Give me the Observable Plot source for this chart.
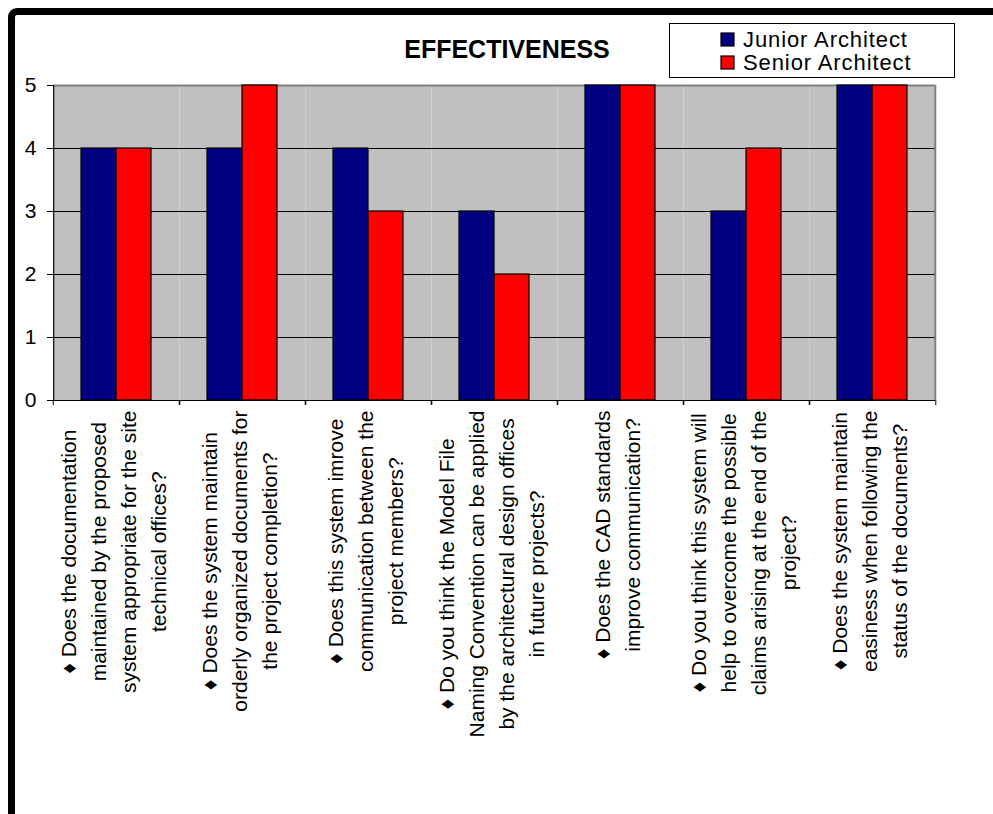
<!DOCTYPE html>
<html>
<head>
<meta charset="utf-8">
<script src="https://cdn.jsdelivr.net/npm/d3@7"></script>
<script src="https://cdn.jsdelivr.net/npm/@observablehq/plot@0.6"></script>
<style>
  html, body { margin: 0; padding: 0; background: #fff; }
  #wrap { position: relative; width: 993px; height: 814px; overflow: hidden; font-family: Arial, "Liberation Sans", sans-serif; }
  #border { position: absolute; left: 8px; top: 8px; width: 1200px; height: 1200px; border-left: 7px solid #000; border-top: 7px solid #000; border-top-left-radius: 9px; box-sizing: border-box; }
  #chart { position: absolute; left: 0; top: 0; }
  #title { position: absolute; left: 357px; top: 37px; width: 300px; text-align: center; font-weight: bold; font-size: 25px; line-height: 25px; color: #000; }
  #legend { position: absolute; left: 669px; top: 23px; width: 286px; height: 55px; border: 1px solid #000; box-sizing: border-box; background: #fff; padding: 4px 0 0 51px; letter-spacing: 0.9px; }
  #legend * { overflow: visible !important; text-overflow: clip !important; }
  #legend svg { margin-right: 9px !important; }
  #legend svg rect { stroke: #000; stroke-width: 1.2px; }
  #legend div { line-height: 23px; padding-bottom: 0 !important; }
</style>
</head>
<body>
<div id="wrap">
  <div id="border"></div>
  <div id="chart"></div>
  <div id="title">EFFECTIVENESS</div>
  <div id="legend"></div>
</div>
<script>
const categories = [
  "♦ Does the documentation\nmaintained by the proposed\nsystem appropriate for the site\ntechnical offices?",
  "♦ Does the system maintain\norderly organized documents for\nthe project completion?",
  "♦ Does this system imrove\ncommunication between the\nproject members?",
  "♦ Do you think the Model File\nNaming Convention can be applied\nby the architectural design offices\nin future projects?",
  "♦ Does the CAD standards\nimprove communication?",
  "♦ Do you think this system will\nhelp to overcome the possible\nclaims arising at the end of the\nproject?",
  "♦ Does the system maintain\neasiness when following the\nstatus of the documents?"
];
const seriesNames = ["Junior Architect", "Senior Architect"];
const juniorValues = [4, 4, 4, 3, 5, 3, 5];
const seniorValues = [4, 5, 3, 2, 5, 4, 5];
const yTicks = [0, 1, 2, 3, 4, 5];
const seriesColors = ["#000080", "#ff0000"];

const data = categories.flatMap((c, i) => [
  {q: c, s: seriesNames[0], v: juniorValues[i]},
  {q: c, s: seriesNames[1], v: seniorValues[i]}
]);

const W = 993, H = 814, mL = 51, mR = 56, mT = 85, mB = 414;
const step = (W - mL - mR) / categories.length;
const padOuter = 0.76;
const innerStep = step / (seriesNames.length + 2 * padOuter);
const edgeOffset = innerStep * (0.5 + padOuter); // from first/last band centre to facet edge
const labelFont = 21;
const fontFamily = "Arial, 'Liberation Sans', sans-serif";

const ctx = document.createElement("canvas").getContext("2d");
ctx.font = `${labelFont}px ${fontFamily}`;
const maxW = c => Math.max(...c.split("\n").map(l => ctx.measureText(l).width));

const labelMarks = categories.map(c => Plot.text([c], {
  fx: d => d,
  text: d => d,
  frameAnchor: "bottom",
  rotate: -90,
  textAnchor: "middle",
  lineAnchor: "middle",
  lineHeight: 30 / labelFont,
  fontSize: labelFont,
  dx: -5,
  dy: 10 + maxW(c) / 2,
  fill: "#000"
}));

const first = categories[0], last = categories[categories.length - 1];

const chart = Plot.plot({
  width: W, height: H,
  marginLeft: mL, marginRight: mR, marginTop: mT, marginBottom: mB,
  style: {fontFamily, fontSize: "21px", color: "#000", background: "transparent", overflow: "visible"},
  fx: {domain: categories, padding: 0, label: null},
  x: {domain: seriesNames, paddingInner: 0, paddingOuter: padOuter, axis: null},
  y: {domain: [0, 5], label: null},
  color: {domain: seriesNames, range: seriesColors},
  marks: [
    Plot.frame({fill: "#c0c0c0", stroke: "none"}),
    Plot.ruleY(yTicks.slice(1, -1), {stroke: "#000", strokeWidth: 1}),
    Plot.ruleY([5], {stroke: "#808080", strokeWidth: 2}),
    Plot.barY(data, {fx: "q", x: "s", y: "v", fill: "s", stroke: "#000", strokeWidth: 1.2}),
    Plot.ruleY([0], {stroke: "#000", strokeWidth: 1.2}),
    Plot.ruleX([first], {fx: d => d, x: () => seriesNames[0], dx: -edgeOffset, y1: 0, y2: 5, stroke: "#000", strokeWidth: 1.2}),
    Plot.ruleX([last], {fx: d => d, x: () => seriesNames[1], dx: edgeOffset, y1: 0, y2: 5, stroke: "#808080", strokeWidth: 2}),
    Plot.axisFx({anchor: "bottom", dx: -step / 2, tickSize: 5, tickFormat: () => "", label: null, stroke: "#000"}),
    Plot.axisFx([last], {anchor: "bottom", dx: step / 2, tickSize: 5, tickFormat: () => "", label: null, stroke: "#000"}),
    Plot.axisY(yTicks, {tickSize: 6, tickPadding: 11, fontSize: 21, tickFormat: d => String(d), label: null, stroke: "#000"}),
    ...labelMarks
  ]
});
document.getElementById("chart").appendChild(chart);

const legend = Plot.legend({
  color: {domain: seriesNames, range: seriesColors},
  legend: "swatches",
  columns: 1,
  swatchSize: 13,
  style: {fontFamily, fontSize: "22px", color: "#000", margin: 0}
});
document.getElementById("legend").appendChild(legend);
</script>
</body>
</html>
